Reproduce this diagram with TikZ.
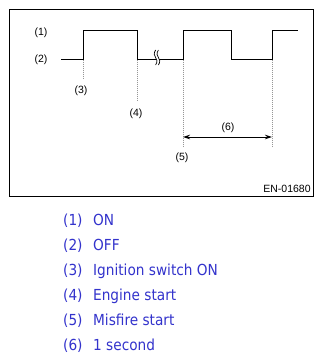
\documentclass[tikz,border=0pt]{standalone}
\usepackage{fontspec}
\setmainfont{Liberation Sans}
\newfontfamily\legfont{DejaVu Sans Condensed}
\usetikzlibrary{arrows.meta}
\definecolor{legblue}{RGB}{51,51,204}
\definecolor{dotgray}{RGB}{150,150,150}
\tikzset{
  wave/.style={line width=0.9bp, black},
  guide/.style={dotgray, line width=1bp, dash pattern=on 1bp off 1bp},
  lbl/.style={font=\fontsize{10.5bp}{12bp}\selectfont, inner sep=0pt},
  legnum/.style={font=\legfont\fontsize{15.2bp}{17bp}\selectfont, text=legblue, anchor=base west, inner sep=0pt},
  legtxt/.style={font=\legfont\fontsize{15.2bp}{17bp}\selectfont, text=legblue, anchor=base west, inner sep=0pt},
  brk/.style={line width=0.7bp, black},
}
\begin{document}
\begin{tikzpicture}[x=1bp,y=-1bp]
\useasboundingbox (0,0) rectangle (326,363);
\fill[white] (0,0) rectangle (326,363);
% frame
\node[draw, line width=0.9bp, minimum width=304bp, minimum height=187bp, anchor=north west, inner sep=0pt] (frame) at (9,9) {};
% waveform
\coordinate (w0) at (61,59.5);
\coordinate (r1b) at (83,59.5);
\coordinate (r1t) at (83,30);
\coordinate (f1t) at (137,30);
\coordinate (f1b) at (137,59.5);
\coordinate (r2b) at (183,59.5);
\coordinate (r2t) at (183,30);
\coordinate (f2t) at (231,30);
\coordinate (f2b) at (231,59.5);
\coordinate (r3b) at (272,59.5);
\coordinate (r3t) at (272,30);
\coordinate (wend) at (298,30);
\draw[wave] (w0) -- (r1b) -- (r1t) -- (f1t) -- (f1b) -- (r2b) -- (r2t) -- (f2t) -- (f2b) -- (r3b) -- (r3t) -- (wend);
% break mark
\fill[white] (155.6,50) .. controls (153.6,53) and (154,56) .. (155.6,57.5) .. controls (157.2,59) and (157.6,62) .. (155.6,65)
  -- (158.4,65) .. controls (160.4,62) and (160,59) .. (158.4,57.5) .. controls (156.8,56) and (156.4,53) .. (158.4,50) -- cycle;
\draw[brk] (155.6,50) .. controls (153.6,53) and (154,56) .. (155.6,57.5) .. controls (157.2,59) and (157.6,62) .. (155.6,65);
\draw[brk] (158.4,50) .. controls (156.4,53) and (156.8,56) .. (158.4,57.5) .. controls (160,59) and (160.4,62) .. (158.4,65);
% guide lines
\coordinate (g3) at (83,79);
\coordinate (g4) at (137,100);
\coordinate (g5) at (183,147);
\coordinate (g6) at (272,147);
\draw[guide] (r1b) -- (g3);
\draw[guide] (f1b) -- (g4);
\draw[guide] (r2b) -- (g5);
\draw[guide] (r3b) -- (g6);
% arrow
\coordinate (a1) at (183,137);
\coordinate (a2) at (272,137);
\draw[line width=0.9bp, {Stealth[length=7bp,width=4.5bp]}-{Stealth[length=7bp,width=4.5bp]}] (a1) -- (a2);
% labels
\node[lbl] (l1) at (41,33) {(1)};
\node[lbl] (l2) at (41,60) {(2)};
\node[lbl] (l3) at (81,91) {(3)};
\node[lbl] (l4) at (136,114) {(4)};
\node[lbl] (l5) at (182,158) {(5)};
\node[lbl] (l6) at (228,128) {(6)};
\node[lbl] (code) at (287,189) {EN-01680};
% legend
\foreach \i/\t [count=\k from 0] in {1/ON,2/OFF,3/Ignition switch ON,4/Engine start,5/Misfire start,6/1 second}{
  \node[legnum] (n\i) at (63,225.3+25.1*\k) {(\i)};
  \node[legtxt] (t\i) at (93,225.3+25.1*\k) {\t};
}
\end{tikzpicture}
\end{document}
